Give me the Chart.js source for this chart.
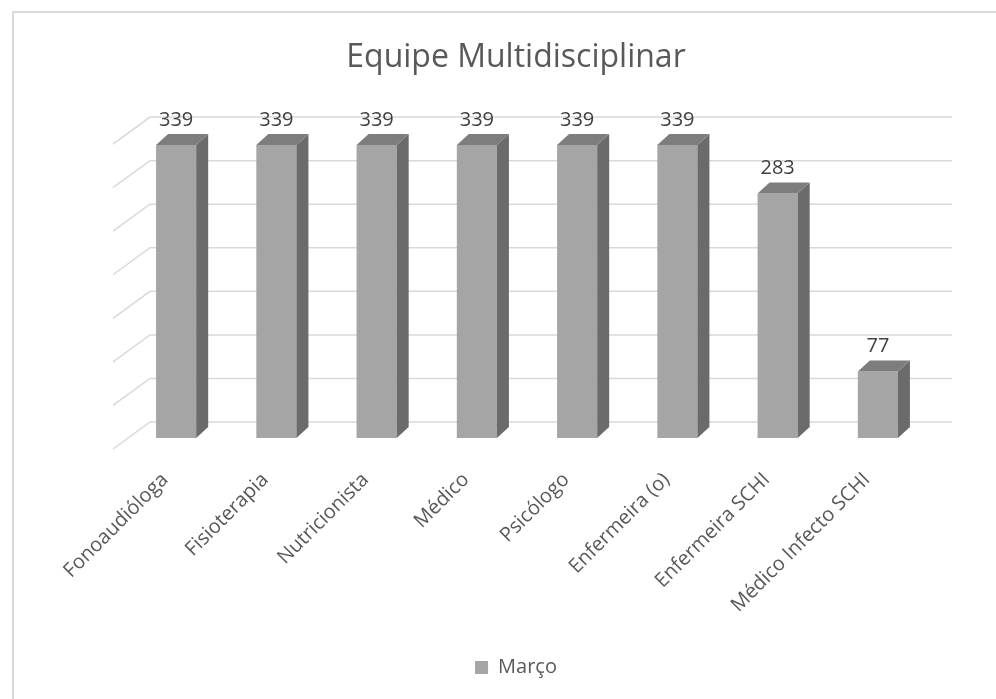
<!DOCTYPE html>
<html>
<head>
<meta charset="utf-8">
<title>Equipe Multidisciplinar</title>
<script src="https://cdn.jsdelivr.net/npm/chart.js@4/dist/chart.umd.min.js"></script>
<style>
	body { margin: 0; background: #fff; overflow: hidden; }
	canvas { display: block; }
</style>
</head>
<body>
<canvas id="equipe-chart" width="996" height="699"></canvas>
<script>
const titulo = "Equipe Multidisciplinar"
const categorias = ["Fonoaudióloga", "Fisioterapia", "Nutricionista", "Médico", "Psicólogo", "Enfermeira (o)", "Enfermeira SCHI", "Médico Infecto SCHI"]
const serieNome = "Março"
const marco = [339, 339, 339, 339, 339, 339, 283, 77]
const eixoMin = 0
const eixoMax = 350
const eixoPasso = 50

Chart.defaults.font.family = "'Open Sans', sans-serif"
Chart.defaults.color = "#595959"

// moldura cinza do gráfico (como no Excel)
const moldura = {
	id: "moldura",
	beforeDraw(chart) {
		const ctx = chart.ctx
		ctx.save()
		ctx.fillStyle = "#fff"
		ctx.fillRect(0, 0, chart.width, chart.height)
		ctx.strokeStyle = "#d9d9d9"
		ctx.lineWidth = 2
		ctx.strokeRect(13, 12, chart.width, chart.height)
		ctx.restore()
	}
}

// linhas de grade na parede do fundo + diagonal da parede lateral
const grade3d = {
	id: "grade3d",
	beforeDatasetsDraw(chart) {
		const {ctx, chartArea, scales} = chart
		ctx.save()
		ctx.strokeStyle = "#d9d9d9"
		ctx.lineWidth = 1.5
		scales.y.ticks.forEach(t => {
			const py = scales.y.getPixelForValue(t.value)
			// a parede do fundo fica um pouco maior (perspectiva)
			const fundo = chartArea.bottom - 16 - (chartArea.bottom - py) * 1.008
			ctx.beginPath()
			ctx.moveTo(chartArea.left - 13, fundo + 27)
			ctx.lineTo(chartArea.left + 24, fundo)
			ctx.lineTo(chartArea.right + 24, fundo)
			ctx.stroke()
		})
		ctx.restore()
	}
}

// faces lateral e superior das colunas, e os rótulos de valor
const barras3d = {
	id: "barras3d",
	afterDatasetsDraw(chart) {
		const ctx = chart.ctx
		const meta = chart.getDatasetMeta(0)
		const valores = chart.data.datasets[0].data
		const dx = 12
		const dy = -11
		ctx.save()
		meta.data.forEach((bar, i) => {
			const {x, y, base, width} = bar.getProps(["x", "y", "base", "width"], true)
			const l = x - width / 2
			const r = x + width / 2

			ctx.fillStyle = "#6b6b6b"
			ctx.beginPath()
			ctx.moveTo(r, y)
			ctx.lineTo(r + dx, y + dy)
			ctx.lineTo(r + dx, base + dy)
			ctx.lineTo(r, base)
			ctx.closePath()
			ctx.fill()

			ctx.fillStyle = "#7d7d7d"
			ctx.beginPath()
			ctx.moveTo(l, y)
			ctx.lineTo(l + dx, y + dy)
			ctx.lineTo(r + dx, y + dy)
			ctx.lineTo(r, y)
			ctx.closePath()
			ctx.fill()

			ctx.fillStyle = "#404040"
			ctx.font = "20px 'Open Sans'"
			ctx.textAlign = "center"
			ctx.textBaseline = "middle"
			ctx.fillText(valores[i], x, y - 25)
		})
		ctx.restore()
	}
}

const equipeChart = new Chart("equipe-chart", {
	type: "bar",
	data: {
		labels: categorias,
		datasets: [{
			label: serieNome,
			data: marco,
			backgroundColor: "#a5a5a5",
			barPercentage: 0.4,
			categoryPercentage: 1.0
		}]
	},
	options: {
		responsive: false,
		animation: false,
		devicePixelRatio: 1,
		layout: {
			padding: {left: 36, right: 0, top: 0, bottom: 11.5}
		},
		scales: {
			x: {
				grid: {display: false, drawTicks: false},
				border: {display: false},
				ticks: {
					font: {size: 20},
					color: "#595959",
					minRotation: 45,
					maxRotation: 45,
					autoSkip: false,
					padding: 30,
					labelOffset: -11
				},
				afterFit(scale) { scale.height = 209.5 }
			},
			y: {
				min: eixoMin,
				max: eixoMax,
				ticks: {display: false, stepSize: eixoPasso},
				grid: {display: false},
				border: {display: false},
				afterFit(scale) { scale.width = 90 }
			},
			yDir: {
				type: "linear",
				position: "right",
				ticks: {display: false},
				grid: {display: false},
				border: {display: false},
				afterFit(scale) { scale.width = 68 }
			}
		},
		plugins: {
			title: {
				display: true,
				text: titulo,
				color: "#595959",
				font: {size: 32, weight: "normal", lineHeight: 1.2},
				padding: {top: 38.8, bottom: 58.3}
			},
			legend: {
				display: true,
				position: "bottom",
				labels: {
					boxWidth: 13,
					boxHeight: 13,
					padding: 10,
					color: "#595959",
					font: {size: 20}
				}
			},
			tooltip: {enabled: false}
		}
	},
	plugins: [moldura, grade3d, barras3d]
})
</script>
</body>
</html>
